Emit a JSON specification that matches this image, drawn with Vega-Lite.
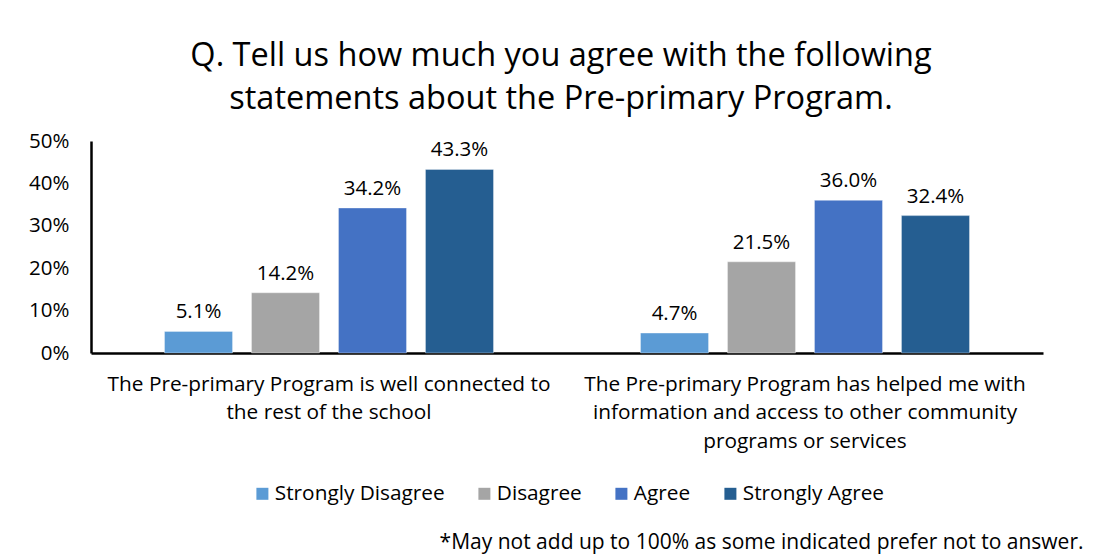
{
  "$schema": "https://vega.github.io/schema/vega-lite/v6.json",
  "autosize": "none",
  "width": 952,
  "height": 212,
  "padding": {"left": 91, "top": 141, "right": 60, "bottom": 207},
  "background": "white",
  "config": {
    "font": "Open Sans",
    "view": {"stroke": null}
  },
  "title": {
    "text": ["Q. Tell us how much you agree with the following", "statements about the Pre-primary Program."],
    "fontSize": 32.5,
    "fontWeight": "normal",
    "color": "#000000",
    "lineHeight": 43,
    "anchor": "middle",
    "dx": -6,
    "offset": 16
  },
  "data": {
    "values": [
      {"statement": "The Pre-primary Program is well connected to the rest of the school", "response": "Strongly Disagree", "pct": 0.051},
      {"statement": "The Pre-primary Program is well connected to the rest of the school", "response": "Disagree", "pct": 0.142},
      {"statement": "The Pre-primary Program is well connected to the rest of the school", "response": "Agree", "pct": 0.342},
      {"statement": "The Pre-primary Program is well connected to the rest of the school", "response": "Strongly Agree", "pct": 0.433},
      {"statement": "The Pre-primary Program has helped me with information and access to other community programs or services", "response": "Strongly Disagree", "pct": 0.047},
      {"statement": "The Pre-primary Program has helped me with information and access to other community programs or services", "response": "Disagree", "pct": 0.215},
      {"statement": "The Pre-primary Program has helped me with information and access to other community programs or services", "response": "Agree", "pct": 0.360},
      {"statement": "The Pre-primary Program has helped me with information and access to other community programs or services", "response": "Strongly Agree", "pct": 0.324}
    ]
  },
  "encoding": {
    "x": {
      "field": "statement",
      "type": "nominal",
      "sort": null,
      "scale": {"paddingInner": 0, "paddingOuter": 0},
      "axis": {
        "title": "*May not add up to 100% as some indicated prefer not to answer.",
        "titleFontSize": 21,
        "titleFontWeight": "normal",
        "titleColor": "#000000",
        "titleAlign": "right",
        "titleBaseline": "alphabetic",
        "titleX": 992,
        "titleY": 195,
        "labelAngle": 0,
        "labelFontSize": 20.8,
        "labelColor": "#000000",
        "labelLineHeight": 28.5,
        "labelPadding": 21,
        "labelLimit": 0,
        "ticks": false,
        "domainColor": "#000000",
        "domainWidth": 2.5,
        "labelExpr": "datum.value == 'The Pre-primary Program is well connected to the rest of the school' ? ['The Pre-primary Program is well connected to', 'the rest of the school'] : ['The Pre-primary Program has helped me with', 'information and access to other community', 'programs or services']"
      }
    },
    "xOffset": {
      "field": "response",
      "type": "nominal",
      "sort": ["Strongly Disagree", "Disagree", "Agree", "Strongly Agree"],
      "scale": {"paddingInner": 0.218, "paddingOuter": 0.845}
    },
    "y": {
      "field": "pct",
      "type": "quantitative",
      "scale": {"domain": [0, 0.5]},
      "axis": {
        "title": null,
        "values": [0, 0.1, 0.2, 0.3, 0.4, 0.5],
        "format": ".0%",
        "grid": false,
        "ticks": false,
        "labelPadding": 22,
        "labelFontSize": 20.5,
        "labelColor": "#000000",
        "domainColor": "#000000",
        "domainWidth": 2.5
      }
    }
  },
  "layer": [
    {
      "mark": {"type": "bar", "stroke": "#ffffff", "strokeOpacity": 0.35, "strokeWidth": 1},
      "encoding": {
        "color": {
          "field": "response",
          "type": "nominal",
          "sort": ["Strongly Disagree", "Disagree", "Agree", "Strongly Agree"],
          "scale": {
            "domain": ["Strongly Disagree", "Disagree", "Agree", "Strongly Agree"],
            "range": ["#5B9BD5", "#A5A5A5", "#4472C4", "#255E91"]
          },
          "legend": {
            "title": null,
            "orient": "none",
            "direction": "horizontal",
            "columns": 4,
            "legendX": 161,
            "legendY": 342,
            "symbolType": "square",
            "symbolSize": 144,
            "symbolStrokeWidth": 0,
            "labelFontSize": 20.8,
            "labelColor": "#000000",
            "labelOffset": 2,
            "columnPadding": 29,
            "labelLimit": 0
          }
        }
      }
    },
    {
      "mark": {"type": "text", "baseline": "alphabetic", "dy": -13, "fontSize": 20.5, "color": "#000000"},
      "encoding": {
        "text": {"field": "pct", "type": "quantitative", "format": ".1%"}
      }
    }
  ]
}
